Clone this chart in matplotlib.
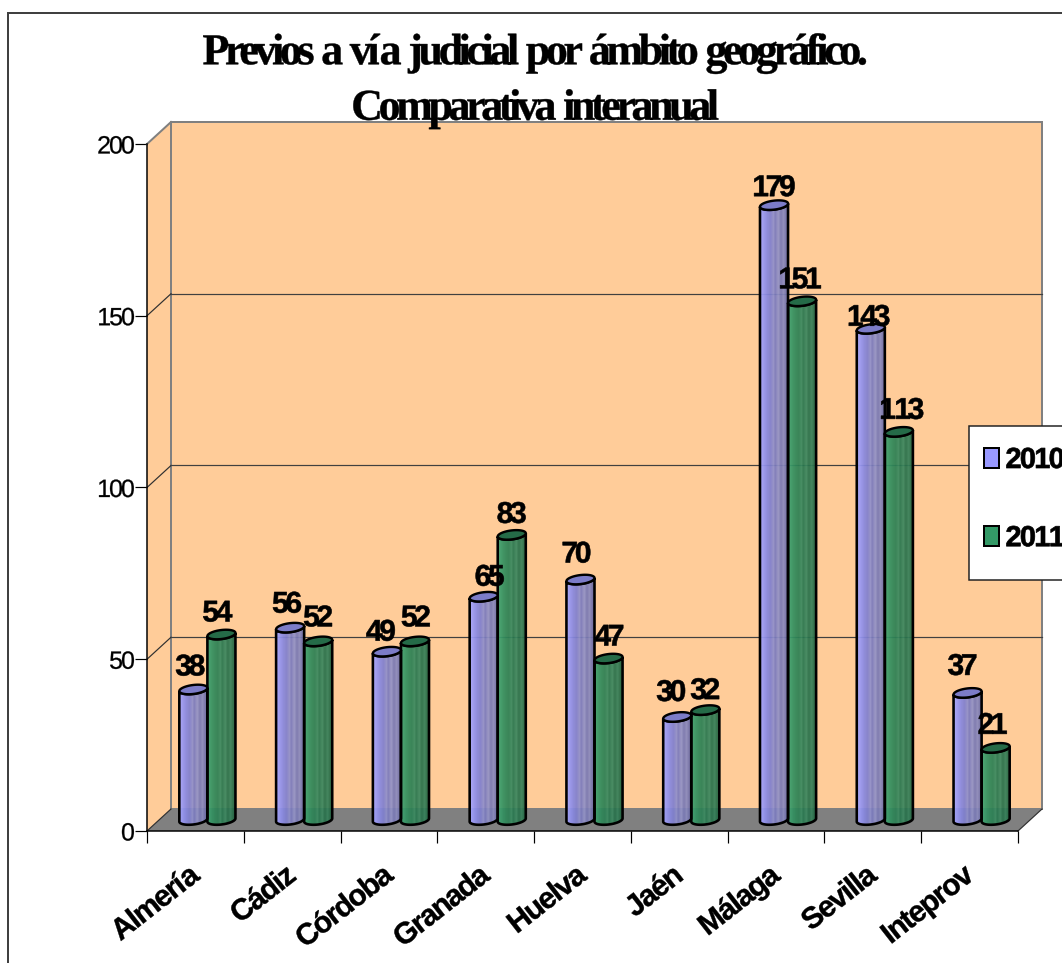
# -*- coding: utf-8 -*-
"""Previos a via judicial: 3D-looking cylinder columns, Excel style."""
import numpy as np
import matplotlib
matplotlib.use("Agg")
import matplotlib.pyplot as plt
import matplotlib.patheffects as pe
from matplotlib.colors import LinearSegmentedColormap
from matplotlib.patches import Patch, Polygon, Rectangle
from matplotlib.path import Path
from matplotlib.transforms import Affine2D

W, H = 1062, 963

CATEGORIES = ["Almería", "Cádiz", "Córdoba", "Granada", "Huelva", "Jaén",
              "Málaga", "Sevilla", "Inteprov"]
VALUES_2010 = [38, 56, 49, 65, 70, 30, 179, 143, 37]
VALUES_2011 = [54, 52, 52, 83, 47, 32, 151, 113, 21]
YTICKS = [0, 50, 100, 150, 200]
SERIES = ["2010", "2011"]

# nudges of the value labels, in pixels (the original labels were placed by hand)
LABEL_DX_2010 = [-3, -3, -6, 6, -4, -6, 0, -2, -5]
LABEL_DY_2010 = [22, 23, 19, 19, 25, 24, 17, 11, 26]
LABEL_DX_2011 = [-4, 0, 1, 0, 1, 0, -2, 3, -3]
LABEL_DY_2011 = [21, 23, 23, 20, 21, 19, 21, 21, 22]

ORANGE = "#FFCC99"
FLOOR = "#808080"
WALL_EDGE = "#808080"

# pixels -> points at dpi 100
PX = 0.72
# depth of the fake 3D box, in data units
DX = 24 / 96.78
DY = 22 / 3.435
BAR_W = 0.29
CAP_H = 4.5 / 3.435
CAP_TILT = 1.6 / 3.435


class Tracking(pe.AbstractPathEffect):
    """Pull glyphs together (em units), Excel exported very tight letters."""

    def __init__(self, track, anchor="center", stroke=0.0):
        super().__init__()
        self.track = track * 100  # text paths come at 100 units per em
        self.anchor = anchor
        self.stroke = stroke

    def draw_path(self, renderer, gc, tpath, affine, rgbFace=None):
        verts = np.array(tpath.vertices, dtype=float)
        codes = tpath.codes
        starts = list(np.flatnonzero(codes == Path.MOVETO)) + [len(verts)]
        shift, cluster_end = 0.0, None
        for s, e in zip(starts[:-1], starts[1:]):
            xmin, xmax = verts[s:e, 0].min(), verts[s:e, 0].max()
            if cluster_end is not None and xmin >= cluster_end - 1:
                shift += self.track
            cluster_end = xmax if cluster_end is None else max(cluster_end, xmax)
            verts[s:e, 0] += shift
        # keep the anchor of the string where it was
        back = {"left": 0.0, "right": -shift, "center": -shift / 2}[self.anchor]
        gc0 = renderer.new_gc()
        gc0.copy_properties(gc)
        gc0.set_linewidth(self.stroke)
        gc0.set_foreground("black")
        renderer.draw_path(gc0, Path(verts, codes), Affine2D().translate(back, 0) + affine, rgbFace)
        gc0.restore()


def cylinder(ax, cx, value, cmap, cap_color):
    left, right = cx - BAR_W / 2, cx + BAR_W / 2
    base = DY / 2
    top = value + base
    t = np.linspace(0, np.pi, 40)
    a = BAR_W / 2
    bottom_x = cx - a * np.cos(t)
    bottom_y = base - CAP_H * np.sin(t) - CAP_TILT * np.cos(t)
    top_x = cx + a * np.cos(t)
    top_y = top - CAP_H * np.sin(t) + CAP_TILT * np.cos(t)
    body = Polygon(np.column_stack([np.r_[bottom_x, top_x], np.r_[bottom_y, top_y]]),
                   closed=True, facecolor="none", edgecolor="black",
                   linewidth=2.6 * PX, zorder=4, clip_on=False)
    ax.add_patch(body)
    shade = cmap(np.linspace(0, 1, 60))[None, :, :]
    im = ax.imshow(shade, extent=[left, right, base - 2 * CAP_H, top + 2 * CAP_H],
                   aspect="auto", alpha=0.93, zorder=3, interpolation="nearest")
    im.set_clip_path(body)
    u = np.linspace(0, 2 * np.pi, 60)
    ax.add_patch(Polygon(np.column_stack([cx + a * np.cos(u),
                                          top + CAP_H * np.sin(u) + CAP_TILT * np.cos(u)]),
                         closed=True, facecolor=cap_color, edgecolor="black",
                         linewidth=2.4 * PX, zorder=5, clip_on=False))


fig = plt.figure(figsize=(W / 100, H / 100), dpi=100, facecolor="white")
ax = fig.add_axes([147 / W, 1 - 831 / H, (1018 - 147) / W, (831 - 144) / H], facecolor="none")

# outer frame runs off the right and bottom of the picture
fig.add_artist(Rectangle((7.5 / W, -0.1), 1.2, 1.1 - 13 / H, transform=fig.transFigure,
                         facecolor="none", edgecolor="#404040", linewidth=2 * PX))

n = len(CATEGORIES)
ymax = YTICKS[-1]

# walls and floor
ax.add_patch(Polygon([(0, 0), (DX, DY), (DX, ymax + DY), (0, ymax)], closed=True,
                     facecolor=ORANGE, edgecolor="none", zorder=1, clip_on=False))
ax.add_patch(Rectangle((DX, DY), n, ymax, facecolor=ORANGE, edgecolor=WALL_EDGE,
                       linewidth=2 * PX, zorder=1, clip_on=False))
ax.add_patch(Polygon([(0, 0), (n, 0), (n + DX, DY), (DX, DY)], closed=True,
                     facecolor=FLOOR, edgecolor="none", zorder=1.5, clip_on=False))
ax.plot([0, DX], [ymax, ymax + DY], color=WALL_EDGE, lw=2 * PX, zorder=1.6, clip_on=False)
ax.plot([n, n + DX], [0, DY], color="#303030", lw=1.2 * PX, zorder=1.6, clip_on=False)
for y in YTICKS[1:-1] + [0]:
    ax.plot([0, DX], [y, y + DY], color="#303030", lw=1.2 * PX, zorder=1.6, clip_on=False)
for y in YTICKS[1:-1]:
    ax.plot([DX, n + DX], [y + DY, y + DY], color="#404040", lw=1.2 * PX, zorder=1.6, clip_on=False)

# shading with the faint vertical streaks on the right half of each cylinder
blue_map = LinearSegmentedColormap.from_list(
    "blue", ["#A6A6FF", "#9C9CF8", "#9090EA", "#8686DC", "#8080CE", "#9090CC",
             "#7C7CBE", "#9494C8", "#7878B4", "#8A8ABE", "#7070AA", "#6A6AA0"])
green_map = LinearSegmentedColormap.from_list(
    "green", ["#44A274", "#3A9C6A", "#339060", "#2F8759", "#2C8054", "#3A8A60",
              "#2A7850", "#3C8860", "#28704A", "#36805A", "#266A46", "#236240"])

for i in range(n):
    mid = i + 0.5 + DX / 2
    for values, off, cmap, cap, dxs, dys in (
            (VALUES_2010, -BAR_W / 2, blue_map, "#7C7CC8", LABEL_DX_2010, LABEL_DY_2010),
            (VALUES_2011, BAR_W / 2, green_map, "#256B48", LABEL_DX_2011, LABEL_DY_2011)):
        cylinder(ax, mid + off, values[i], cmap, cap)
        t = ax.annotate(str(values[i]), (mid + off, values[i] + DY / 2),
                        xytext=(dxs[i], dys[i]), textcoords="offset pixels",
                        ha="center", va="center", fontsize=30 * PX, fontweight="bold",
                        family="Liberation Sans", color="black", zorder=6,
                        annotation_clip=False)
        t.set_path_effects([Tracking(-0.11, stroke=0.4)])

ax.set_xlim(0, n)
ax.set_ylim(0, ymax)
for side in ("top", "right"):
    ax.spines[side].set_visible(False)
for side in ("left", "bottom"):
    ax.spines[side].set_linewidth(1.5 * PX)
    ax.spines[side].set_zorder(2)

ax.set_yticks(YTICKS)
ax.set_yticklabels([str(v) for v in YTICKS], family="Liberation Sans", fontsize=25 * PX)
ax.tick_params(axis="y", length=12 * PX, width=1.2 * PX, pad=0)
for lab in ax.get_yticklabels():
    lab.set_path_effects([Tracking(-0.08, "right", stroke=0.2)])

ax.set_xticks(range(n + 1))
ax.set_xticklabels([])
ax.tick_params(axis="x", which="major", length=12 * PX, width=1.2 * PX)
ax.set_xticks(np.arange(n) + 0.42, minor=True)
ax.set_xticklabels(CATEGORIES, minor=True, rotation=38, ha="right", va="top",
                   rotation_mode="anchor", family="Liberation Sans",
                   fontweight="bold", fontsize=30 * PX)
ax.tick_params(axis="x", which="minor", length=0, pad=30 * PX)
for lab in ax.get_xticklabels(minor=True):
    lab.set_path_effects([Tracking(-0.05, "right", stroke=0.3)])

# legend box runs off the right edge, like the rest of the frame
ax.add_patch(Rectangle((969 / W, 1 - 580 / H), 0.2, 154 / H, transform=fig.transFigure,
                       facecolor="white", edgecolor="#202020", linewidth=1.5 * PX,
                       zorder=9, clip_on=False))
handles = [Patch(facecolor="#9999FF", edgecolor="black", linewidth=2 * PX),
           Patch(facecolor="#339966", edgecolor="black", linewidth=2 * PX)]
leg = ax.legend(handles, SERIES, loc="upper left", bbox_to_anchor=(984 / W, 1 - 446 / H),
                bbox_transform=fig.transFigure, prop={"family": "Liberation Sans",
                                                      "weight": "bold", "size": 29 * PX},
                frameon=False, handlelength=0.52, handleheight=0.69, handletextpad=0.22,
                labelspacing=1.73, borderpad=0, borderaxespad=0)
leg.set_zorder(10)
for txt in leg.get_texts():
    txt.set_path_effects([Tracking(-0.06, "left", stroke=0.5)])

title = fig.text(535 / W, 1 - 81 / H,
                 "Previos a vía judicial por ámbito geográfico.\nComparativa interanual",
                 ha="center", va="center", family="Liberation Serif", fontweight="bold",
                 fontsize=44 * PX, linespacing=1.5)
title.set_path_effects([Tracking(-0.1, stroke=0.3)])

fig.savefig("out.png", dpi=100)
plt.close(fig)
